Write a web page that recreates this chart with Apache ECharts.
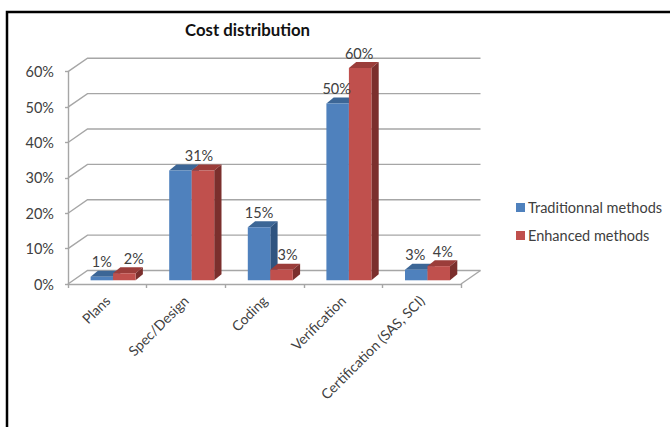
<!DOCTYPE html>
<html><head><meta charset="utf-8">
<style>html,body{margin:0;padding:0;background:#fff}#c{width:670px;height:427px}</style>
<script src="https://cdn.jsdelivr.net/npm/echarts@6/dist/echarts.min.js"></script>
</head><body><div id="c"></div>
<script>
const categories = ['Plans','Spec/Design','Coding','Verification','Certification (SAS, SCI)'];
const traditional = [1,31,15,50,3];
const enhanced = [2,31,3,60,4];
const yTicks = [0,10,20,30,40,50,60];
// horizontal nudges of the value labels; null = the reference shows no label there
const traditionalLabelNudge = [0,null,0,-1,-1];
const enhancedLabelNudge = [9.5,-4,6,-1,4];
const FONT = 'Lato,"Open Sans",sans-serif';
const chart = echarts.init(document.getElementById('c'), null, {renderer:'svg'});
const WALL_DX = 19.5, WALL_DY = 13.5, BAR_SHIFT_X = 5.8, BAR_SHIFT_Y = 3.7, BAR_W = 22.5, DEPTH_X = 7.3, DEPTH_Y = 6;
const GRID_COLOR = '#a6a6a6', TEXT = '#404040';
function barSeries(name, data, offset, colors, nudge){
  return {
    type:'custom', name, data, z:5, coordinateSystem:'cartesian2d',
    itemStyle:{color:colors.front},
    encode:{x:0,y:1},
    renderItem(params, api){
      const i = params.dataIndex, v = data[i];
      const top = api.coord([i, v]), base = api.coord([i, 0]);
      const xL = top[0] + BAR_SHIFT_X + offset*BAR_W, xR = xL + BAR_W;
      const yT = top[1] - BAR_SHIFT_Y, yB = base[1] - BAR_SHIFT_Y;
      const kids = [
        {type:'polygon', shape:{points:[[xL,yT],[xR,yT],[xR+DEPTH_X,yT-DEPTH_Y],[xL+DEPTH_X,yT-DEPTH_Y]]}, style:{fill:colors.top}},
        {type:'polygon', shape:{points:[[xR,yT],[xR+DEPTH_X,yT-DEPTH_Y],[xR+DEPTH_X,yB-DEPTH_Y],[xR,yB]]}, style:{fill:colors.side}},
        {type:'rect', shape:{x:xL,y:yT,width:BAR_W,height:yB-yT}, style:{fill:colors.front}}
      ];
      if (nudge[i] !== null) kids.push({type:'text', z2:100, style:{text:v+'%', x:xL+BAR_W/2+nudge[i], y:yT-DEPTH_Y-1.5, align:'center', verticalAlign:'bottom', fill:TEXT, font:'14.5px '+FONT}});
      return {type:'group', children:kids};
    }
  };
}
const wallSeries = {
  type:'custom', name:'walls', data:yTicks, z:1, silent:true, encode:{y:0},
  renderItem(params, api){
    const v = yTicks[params.dataIndex];
    const y = api.coord([0, v])[1], xa = params.coordSys.x, xb = xa + params.coordSys.width;
    const line = {stroke:GRID_COLOR, lineWidth:1.4, fill:null};
    const kids = [
      {type:'polyline', shape:{points:[[xa,y],[xa+WALL_DX,y-WALL_DY],[xb+WALL_DX,y-WALL_DY]]}, style:line}
    ];
    if (v===0) kids.push({type:'line', shape:{x1:xb,y1:y,x2:xb+WALL_DX,y2:y-WALL_DY}, style:line});
    return {type:'group', children:kids};
  }
};
chart.setOption({
  animation:false,
  backgroundColor:'#fff',
  textStyle:{fontFamily:FONT},
  title:{text:'Cost distribution', left:180, top:16, textStyle:{fontFamily:FONT, fontSize:16.8, fontWeight:'bold', color:'#111'}},
  legend:{data:['Traditionnal methods','Enhanced methods'], orient:'vertical', left:511, top:195, itemWidth:9, itemHeight:9, itemGap:13, icon:'rect',
    textStyle:{fontFamily:FONT, fontSize:14.5, color:TEXT, padding:[0,0,0,-2]}},
  grid:{left:68, right:209, top:71.7, bottom:143},
  xAxis:{type:'category', data:categories, boundaryGap:true,
    axisLine:{lineStyle:{color:GRID_COLOR,width:1.4}},
    axisTick:{show:true,alignWithLabel:false,length:4,lineStyle:{color:GRID_COLOR,width:1.4}},
    axisLabel:{rotate:45, interval:0, margin:14, fontSize:14, fontFamily:FONT, color:TEXT}},
  yAxis:{type:'value', min:0, max:60, interval:10,
    axisLine:{show:true,lineStyle:{color:GRID_COLOR,width:1.4}},
    axisTick:{show:true,length:3,lineStyle:{color:GRID_COLOR,width:1.4}},
    splitLine:{show:false},
    axisLabel:{formatter:'{value}%', margin:14, fontSize:14.5, fontFamily:FONT, color:TEXT, padding:[4,0,0,0]}},
  graphic:[{type:'polyline', silent:true, z:0, shape:{points:[[7,427],[7,12],[670,12]]}, style:{stroke:'#000',lineWidth:2.5,fill:null}}],
  series:[wallSeries,
    barSeries('Traditionnal methods', traditional, -1, {front:'#4f81bd',top:'#3c6696',side:'#2f5480'}, traditionalLabelNudge),
    barSeries('Enhanced methods', enhanced, 0, {front:'#c0504d',top:'#9b3d3a',side:'#7b2f2d'}, enhancedLabelNudge)]
});
</script></body></html>
